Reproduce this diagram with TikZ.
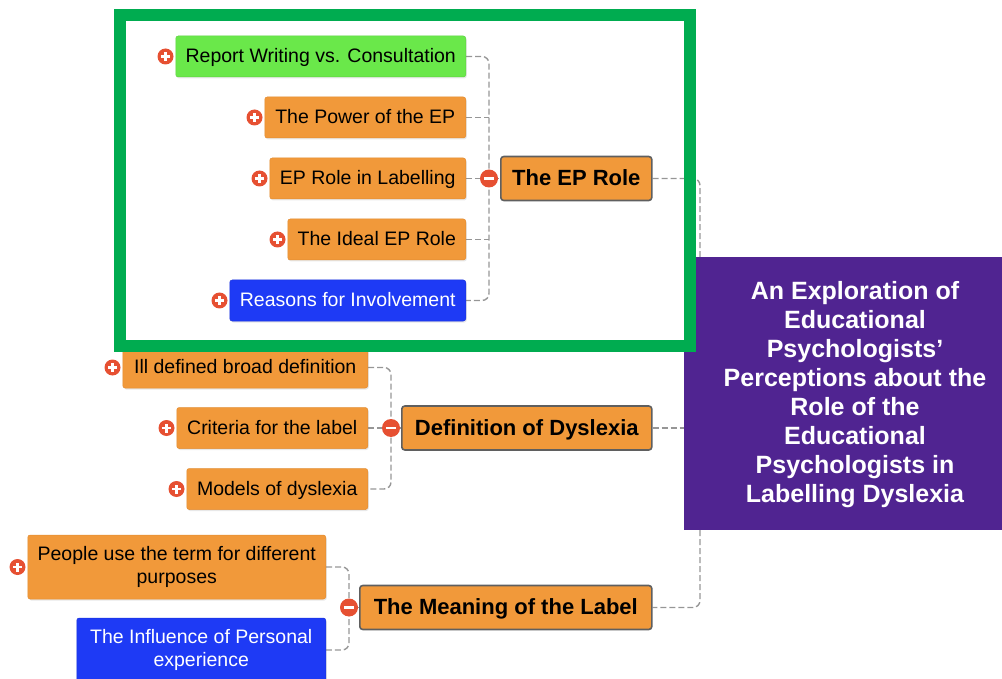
\documentclass[tikz,border=0pt]{standalone}
\usepackage{fontspec}
\setmainfont{Liberation Sans}
\usetikzlibrary{backgrounds,shadows}

\definecolor{topicorange}{RGB}{241,153,58}
\definecolor{topicedge}{RGB}{226,140,50}
\definecolor{topicgreen}{RGB}{106,232,74}
\definecolor{topicblue}{RGB}{30,58,245}
\definecolor{titlepurple}{RGB}{80,36,145}
\definecolor{framegreen}{RGB}{0,172,80}
\definecolor{iconred}{RGB}{230,80,50}
\definecolor{linkgray}{RGB}{150,150,150}
\definecolor{parentedge}{RGB}{95,95,95}

\tikzset{
  topicbox/.style={rectangle, rounded corners=2.5pt, fill=topicorange, draw=topicedge,
    line width=0.5pt, minimum height=41pt, inner sep=0pt, anchor=east, align=center,
    font=\fontsize{19.5}{23.5}\selectfont,
    drop shadow={opacity=0.18, shadow xshift=1pt, shadow yshift=-1.5pt}},
  subtopic/.style={topicbox, text height=14.5pt, text depth=2.5pt},
  greentopic/.style={subtopic, fill=topicgreen, draw=topicgreen!90!black},
  bluetopic/.style={subtopic, fill=topicblue, draw=topicblue!90!black, text=white},
  maintopic/.style={rectangle, rounded corners=3pt, fill=topicorange, draw=parentedge,
    line width=1.6pt, minimum height=44pt, inner sep=0pt, anchor=west,
    text height=16pt, text depth=2pt,
    font=\bfseries\fontsize{22}{26}\selectfont},
  plusicon/.style={circle, fill=iconred, minimum size=16pt, inner sep=0pt,
    path picture={\draw[white, line width=2.2pt]
      ([xshift=-4.5pt]path picture bounding box.center) -- ([xshift=4.5pt]path picture bounding box.center)
      ([yshift=-4.5pt]path picture bounding box.center) -- ([yshift=4.5pt]path picture bounding box.center);}},
  minusicon/.style={circle, fill=iconred, minimum size=18pt, inner sep=0pt,
    path picture={\draw[white, line width=2.4pt]
      ([xshift=-5pt]path picture bounding box.center) -- ([xshift=5pt]path picture bounding box.center);}},
  conn/.style={draw=linkgray, dash pattern=on 6pt off 3pt, line width=1.4pt, rounded corners=7pt}
}

\begin{document}
\begin{tikzpicture}[x=1pt,y=-1pt]
\useasboundingbox (0,0) rectangle (1002,679);

% ---- The EP Role branch ----
\node[greentopic, minimum width=290pt] (rw) at (466,56.5) {Report Writing vs. Consultation};
\node[subtopic, minimum width=201pt] (pow) at (466,117.5) {The Power of the EP};
\node[subtopic, minimum width=196pt] (lab) at (466,178.5) {EP Role in Labelling};
\node[subtopic, minimum width=178pt] (ideal) at (466,239.5) {The Ideal EP Role};
\node[bluetopic, minimum width=236pt] (reas) at (466,300.5) {Reasons for Involvement};
\node[maintopic, minimum width=151pt] (eprole) at (500,178.5) {The EP Role};

% ---- Definition of Dyslexia branch ----
\node[subtopic, minimum width=245pt] (ill) at (368,367.5) {Ill defined broad definition};
\node[subtopic, minimum width=191pt] (crit) at (368,428) {Criteria for the label};
\node[subtopic, minimum width=181pt] (mod) at (368,489) {Models of dyslexia};
\node[maintopic, minimum width=250pt] (def) at (401,428) {Definition of Dyslexia};

% ---- The Meaning of the Label branch ----
\node[topicbox, minimum width=298pt, minimum height=64pt] (peop) at (326,567) {People use the term for different\\purposes};
\node[topicbox, fill=topicblue, draw=topicblue!90!black, text=white, minimum width=249pt, minimum height=64pt] (infl) at (326,650) {The Influence of Personal\\experience};
\node[maintopic, minimum width=292pt] (mean) at (359,607.5) {The Meaning of the Label};

% ---- central topic ----
\node[rectangle, fill=titlepurple, minimum width=320pt, minimum height=273pt, inner sep=0pt,
  anchor=north west] (titlebox) at (684,257) {};
\node[text=white, align=center, font=\bfseries\fontsize{25}{29}\selectfont] (title) at (855,395)
  {An Exploration of\\Educational\\Psychologists’\\Perceptions about the\\Role of the\\Educational\\Psychologists in\\Labelling Dyslexia};

% ---- collapse / expand markers ----
\node[minusicon] (epm) at (489,178.5) {};
\node[minusicon] (dm) at (391,428) {};
\node[minusicon] (mm) at (349,607.5) {};
\node[plusicon] (prw) at ([xshift=-10pt]rw.west) {};
\node[plusicon] (ppow) at ([xshift=-10pt]pow.west) {};
\node[plusicon] (plab) at ([xshift=-10pt]lab.west) {};
\node[plusicon] (pideal) at ([xshift=-10pt]ideal.west) {};
\node[plusicon] (preas) at ([xshift=-10pt]reas.west) {};
\node[plusicon] (pill) at ([xshift=-10pt]ill.west) {};
\node[plusicon] (pcrit) at ([xshift=-10pt]crit.west) {};
\node[plusicon] (pmod) at ([xshift=-10pt]mod.west) {};
\node[plusicon] (ppeop) at ([xshift=-10pt]peop.west) {};

\coordinate (trunk) at (700,428);

% ---- connectors ----
\begin{scope}[on background layer]
  \draw[conn] (rw.east) -| (epm.center) |- (reas.east);
  \draw[conn] (pow.east) -- (pow.east -| epm.center);
  \draw[conn] (ideal.east) -- (ideal.east -| epm.center);
  \draw[conn] (lab.east) -- (eprole.west);

  \draw[conn] (ill.east) -| (dm.center) |- (mod.east);
  \draw[conn] (crit.east) -- (def.west);

  \draw[conn] (peop.east) -| (mm.center) |- (infl.east);
  \draw[conn] (mm.center) -- (mean.west);

  \draw[conn] (eprole.east) -| (trunk) |- (mean.east);
  \draw[conn] (def.east) -- (def.east -| titlebox.west);
\end{scope}

% ---- highlight frame around the EP Role branch ----
\draw[framegreen, line width=12pt] (120,15) rectangle (690,346);
\end{tikzpicture}
\end{document}
